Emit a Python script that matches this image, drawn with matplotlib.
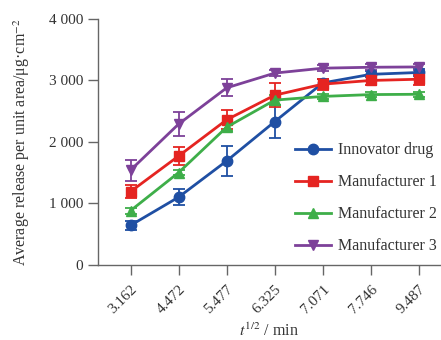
import numpy as np
import matplotlib.pyplot as plt
from matplotlib.lines import Line2D

plt.rcParams['font.family'] = ['Liberation Serif', 'DejaVu Serif']
plt.rcParams['mathtext.fontset'] = 'stix'

times = ['3.162', '4.472', '5.477', '6.325', '7.071', '7.746', '9.487']
labels = ['Innovator drug', 'Manufacturer 1', 'Manufacturer 2', 'Manufacturer 3']

innovator = [640, 1100, 1690, 2330, 2960, 3100, 3130]
innovator_err = [75, 135, 240, 270, 60, 50, 50]
manuf1 = [1190, 1770, 2360, 2760, 2940, 3000, 3020]
manuf1_err = [110, 145, 155, 200, 90, 80, 90]
manuf2 = [880, 1500, 2240, 2680, 2740, 2770, 2775]
manuf2_err = [50, 45, 70, 80, 40, 45, 40]
manuf3 = [1540, 2290, 2880, 3120, 3200, 3215, 3220]
manuf3_err = [170, 200, 140, 50, 45, 45, 50]

series = [innovator, manuf1, manuf2, manuf3]
errors = [innovator_err, manuf1_err, manuf2_err, manuf3_err]
colors = ['#1f4fa3', '#e52421', '#3eae49', '#7d4199']
markers = ['o', 's', '^', 'v']

fig = plt.figure(figsize=(4.41, 3.40), dpi=100)
ax = fig.add_axes([0.223, 0.2215, 0.775, 0.7225])

x = np.arange(len(times))
handles = []
for vals, err, c, m, lab in zip(series, errors, colors, markers, labels):
    ax.errorbar(x, vals, yerr=err, color=c, marker=m, markersize=7.5,
                linewidth=2, elinewidth=1.3, capsize=4, capthick=1.3)
    handles.append(Line2D([], [], color=c, marker=m, markersize=7.5,
                          linewidth=2, label=lab))

ax.set_xlim(-0.67, 6.44)
ax.set_ylim(0, 4000)
ax.set_xticks(x)
ax.set_xticklabels(times, rotation=45, ha='right', rotation_mode='anchor')
ax.set_yticks([0, 1000, 2000, 3000, 4000])
ax.set_yticklabels(['0', '1 000', '2 000', '3 000', '4 000'])
ax.tick_params(direction='out', length=7, width=1, color='#666666',
               labelsize=11, labelcolor='#333333', pad=4)
ax.tick_params(axis='x', pad=6)
for s in ['top', 'right']:
    ax.spines[s].set_visible(False)
for s in ['left', 'bottom']:
    ax.spines[s].set_color('#666666')
    ax.spines[s].set_linewidth(1)

ax.set_ylabel('Average release per unit area/μg·cm$^{-2}$', fontsize=11.5,
              color='#333333', va='center')
ax.yaxis.set_label_coords(-0.225, 0.5)
ax.set_xlabel('$t^{1/2}$ / min', fontsize=11.5, color='#333333', va='center')
ax.xaxis.set_label_coords(0.5, -0.27)

leg = ax.legend(handles=handles, loc='lower right', bbox_to_anchor=(1.02, 0.003),
                frameon=False, fontsize=11.5, labelspacing=1.0,
                handlelength=2.3, handletextpad=0.45, borderaxespad=0.2)
for t in leg.get_texts():
    t.set_color('#333333')

plt.savefig('out.png', dpi=100)
